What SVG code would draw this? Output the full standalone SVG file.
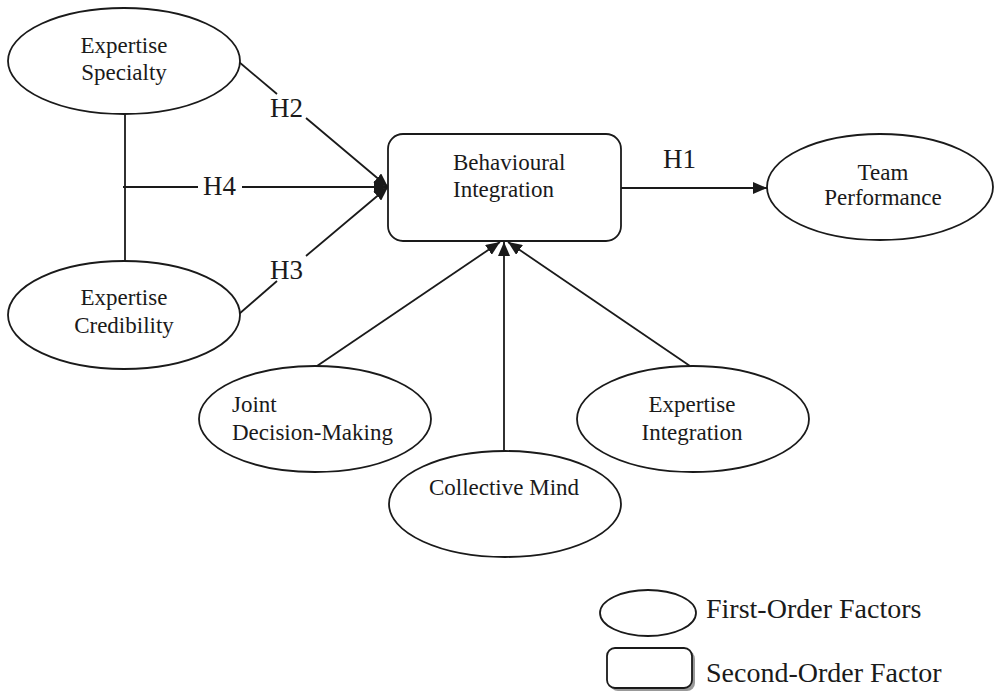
<svg xmlns="http://www.w3.org/2000/svg" width="996" height="691" viewBox="0 0 996 691">
<style>
.n{fill:#fff;stroke:#1a1a1a;stroke-width:1.8}
.t{font-family:"Liberation Serif",serif;font-size:23px;fill:#1a1a1a}
.h{font-family:"Liberation Serif",serif;font-size:27px;fill:#1a1a1a}
.l{font-family:"Liberation Serif",serif;font-size:28px;fill:#1a1a1a}
.c{stroke:#1a1a1a;stroke-width:1.8;fill:none}
.m{text-anchor:middle}
</style>
<defs>
<marker id="a" viewBox="0 0 14 12" refX="14" refY="6" markerWidth="14" markerHeight="12" markerUnits="userSpaceOnUse" orient="auto">
<path d="M0,0 L14,6 L0,12 Z" fill="#1a1a1a"/>
</marker>
</defs>
<rect width="996" height="691" fill="#fff"/>
<g id="connectors">
<line class="c" x1="125" y1="114" x2="125" y2="261"/>
<line class="c" x1="123" y1="187" x2="198" y2="187"/>
<line class="c" x1="242" y1="187" x2="388" y2="187" marker-end="url(#a)"/>
<line class="c" x1="239" y1="62" x2="277" y2="94"/>
<line class="c" x1="306" y1="118" x2="388" y2="187" marker-end="url(#a)"/>
<line class="c" x1="239" y1="314" x2="277" y2="281"/>
<line class="c" x1="306" y1="256" x2="388" y2="187" marker-end="url(#a)"/>
<line class="c" x1="621" y1="188" x2="767" y2="188" marker-end="url(#a)"/>
<line class="c" x1="317" y1="366" x2="500" y2="242" marker-end="url(#a)"/>
<line class="c" x1="504" y1="451" x2="504" y2="242" marker-end="url(#a)"/>
<line class="c" x1="690" y1="366" x2="508" y2="242" marker-end="url(#a)"/>
<text class="h" x="270" y="117">H2</text>
<text class="h" x="203" y="195">H4</text>
<text class="h" x="270" y="279">H3</text>
<text class="h" x="663" y="168">H1</text>
</g>
<g id="expertise-specialty">
<ellipse class="n" cx="124" cy="61" rx="116" ry="53"/>
<text class="t m" x="124" y="53">Expertise</text>
<text class="t m" x="124" y="80">Specialty</text>
</g>
<g id="expertise-credibility">
<ellipse class="n" cx="124" cy="315" rx="116" ry="54"/>
<text class="t m" x="124" y="305">Expertise</text>
<text class="t m" x="124" y="333">Credibility</text>
</g>
<g id="behavioural-integration">
<rect class="n" x="388" y="134" width="233" height="107" rx="15"/>
<text class="t" x="453" y="170">Behavioural</text>
<text class="t" x="453" y="197">Integration</text>
</g>
<g id="team-performance">
<ellipse class="n" cx="880" cy="187" rx="113" ry="53"/>
<text class="t m" x="883" y="180">Team</text>
<text class="t m" x="883" y="205">Performance</text>
</g>
<g id="joint-decision-making">
<ellipse class="n" cx="315" cy="419" rx="116" ry="53"/>
<text class="t" x="232" y="412">Joint</text>
<text class="t" x="232" y="440">Decision-Making</text>
</g>
<g id="collective-mind">
<ellipse class="n" cx="505" cy="504" rx="116" ry="53"/>
<text class="t m" x="504" y="495">Collective Mind</text>
</g>
<g id="expertise-integration">
<ellipse class="n" cx="693" cy="419" rx="116" ry="53"/>
<text class="t m" x="692" y="412">Expertise</text>
<text class="t m" x="692" y="440">Integration</text>
</g>
<g id="legend">
<ellipse class="n" cx="648" cy="613" rx="48" ry="23"/>
<text class="l" x="706" y="618">First-Order Factors</text>
<rect x="610" y="651" width="85" height="40" rx="8" fill="#999"/>
<rect class="n" x="607" y="648" width="85" height="40" rx="8"/>
<text class="l" x="706" y="682">Second-Order Factor</text>
</g>
</svg>
